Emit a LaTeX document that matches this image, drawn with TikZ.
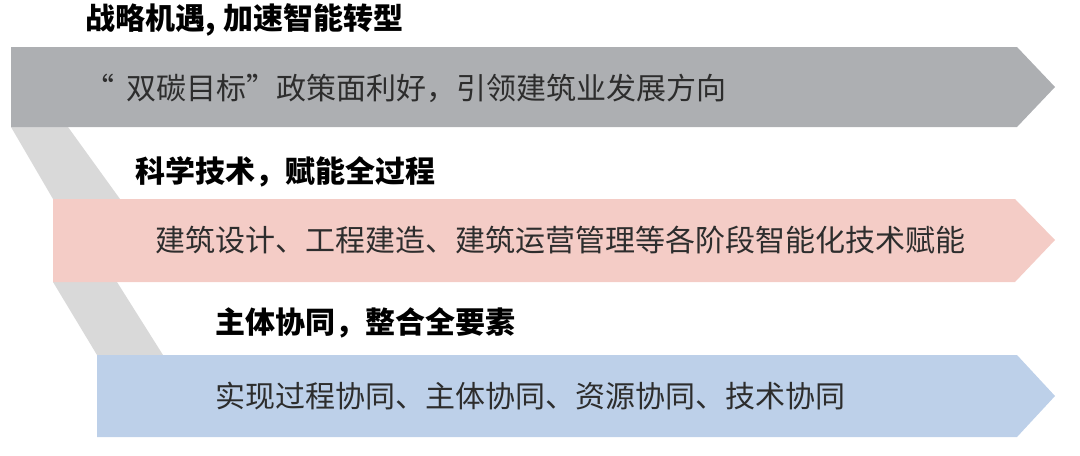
\documentclass[tikz,border=0pt]{standalone}
\usepackage{fontspec}
\setmainfont{Noto Sans CJK SC}
\usepackage{tikz}

\definecolor{bandgray}{RGB}{173,175,178}
\definecolor{linkgray}{RGB}{217,217,217}
\definecolor{bandpink}{RGB}{244,204,198}
\definecolor{bandblue}{RGB}{189,208,233}
\definecolor{textgray}{RGB}{45,45,45}

\begin{document}
\begin{tikzpicture}[x=0.5pt, y=-0.5pt,
		heading/.style={anchor=west, inner sep=0pt, font=\fontsize{15}{18}\selectfont\bfseries, text=black},
		bodytext/.style={anchor=west, inner sep=0pt, font=\fontsize{15}{18}\selectfont, text=textgray}]
			\useasboundingbox (0, 0) rectangle (1080, 455);
			\coordinate (g0) at (11, 47);
			\coordinate (g1) at (1017, 47);
			\coordinate (g2) at (1055, 87);
			\coordinate (g3) at (1017, 127);
			\coordinate (g4) at (11, 127);
			\coordinate (p0) at (53, 199);
			\coordinate (p1) at (1015, 199);
			\coordinate (p2) at (1055, 240);
			\coordinate (p3) at (1015, 282);
			\coordinate (p4) at (53, 282);
			\coordinate (b0) at (97, 355);
			\coordinate (b1) at (1017, 355);
			\coordinate (b2) at (1055, 396);
			\coordinate (b3) at (1017, 437);
			\coordinate (b4) at (97, 437);
			
			\fill[linkgray] (g4) -- (68, 127) -- (120, 199) -- (p0) -- cycle;
			\fill[linkgray] (p4) -- (117, 282) -- (163, 355) -- (b0) -- cycle;
			\fill[bandgray] (g0) -- (g1) -- (g2) -- (g3) -- (g4) -- cycle;
			\fill[bandpink] (p0) -- (p1) -- (p2) -- (p3) -- (p4) -- cycle;
			\fill[bandblue] (b0) -- (b1) -- (b2) -- (b3) -- (b4) -- cycle;
			
			\node[heading] (chance) at (85, 20) {战略机遇,\hspace{4pt}加速智能转型};
			\node[bodytext] (policy) at (84, 88) {“\hspace{6pt}双碳目标”政策面利好，引领建筑业发展方向};
			\node[heading] (tech) at (135, 172) {科学技术，赋能全过程};
			\node[bodytext] (stages) at (155, 240) {建筑设计、工程建造、建筑运营管理等各阶段智能化技术赋能};
			\node[heading] (actors) at (215, 323) {主体协同，整合全要素};
			\node[bodytext] (synergy) at (215, 396) {实现过程协同、主体协同、资源协同、技术协同};
		\end{tikzpicture}
\end{document}
